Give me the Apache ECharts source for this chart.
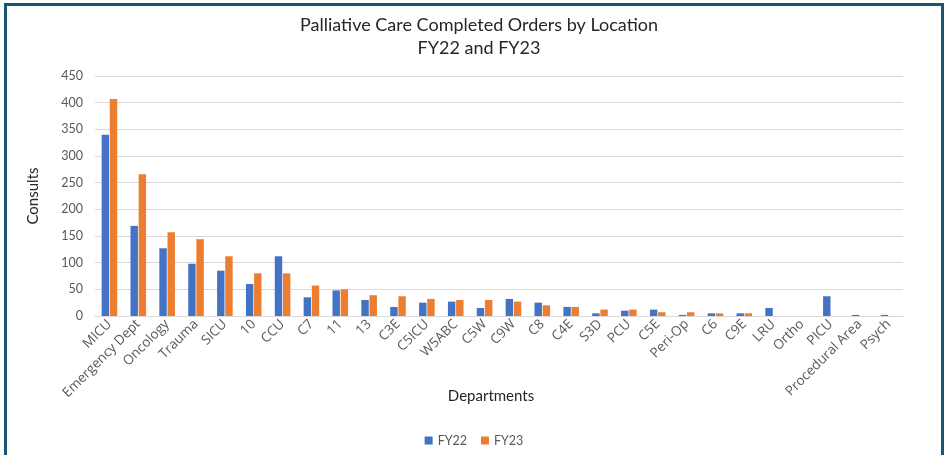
<!DOCTYPE html>
<html>
<head>
<meta charset="utf-8">
<script src="https://cdn.jsdelivr.net/npm/echarts@6/dist/echarts.min.js"></script>
<style>
html,body{margin:0;padding:0;background:#fff;}
#wrap{position:absolute;left:4px;top:3px;width:940px;height:452px;border-left:3px solid #1b5670;border-top:3px solid #1b5670;border-right:3px solid #1b5670;box-sizing:border-box;}
#chart{position:absolute;left:0;top:0;width:948px;height:455px;}
</style>
</head>
<body>
<div id="wrap"></div>
<div id="chart"></div>
<script>
const categories = ["MICU","Emergency Dept","Oncology","Trauma","SICU","10","CCU","C7","11","13","C3E","C5ICU","W5ABC","C5W","C9W","C8","C4E","S3D","PCU","C5E","Peri-Op","C6","C9E","LRU","Ortho","PICU","Procedural Area","Psych"];
const fy22 = [340,169,127,98,85,60,112,35,48,30,17,25,27,15,32,25,17,5,10,12,2,5,5,15,0,37,2,2];
const fy23 = [407,266,157,144,112,80,80,57,50,39,37,32,30,30,27,20,17,12,12,7,7,5,5,0,0,0,0,0];
const yTicks = [0,50,100,150,200,250,300,350,400,450];

const chart = echarts.init(document.getElementById('chart'), null, {renderer:'canvas'});
chart.setOption({
  backgroundColor: 'transparent',
  animation: false,
  title: [
    {text: 'Palliative Care Completed Orders by Location\nFY22 and FY23', left: 474, top: 9, textAlign: 'center',
     textStyle: {fontFamily: 'Lato', fontSize: 18, fontWeight: 'normal', color: '#262626', lineHeight: 23}},
    {text: 'Departments', left: 486, top: 384, textAlign: 'center',
     textStyle: {fontFamily: 'Lato', fontSize: 15, fontWeight: 'normal', color: '#262626'}}
  ],
  legend: {
    data: ['FY22','FY23'], left: 'center', top: 429, itemWidth: 8, itemHeight: 8, itemGap: 14,
    icon: 'rect', textStyle: {fontFamily: 'Lato', fontSize: 12.5, color: '#595959'}
  },
  grid: {left: 95, right: 45, top: 76, bottom: 139},
  xAxis: {
    type: 'category', data: categories,
    axisLine: {lineStyle: {color: '#d9d9d9'}},
    axisTick: {show: false},
    axisLabel: {rotate: 45, interval: 0, fontFamily: 'Open Sans', fontSize: 13.5, color: '#595959', margin: 6}
  },
  yAxis: {
    type: 'value', min: 0, max: 450, interval: 50,
    name: 'Consults', nameLocation: 'middle', nameGap: 54, nameRotate: 90,
    nameTextStyle: {fontFamily: 'Lato', fontSize: 15, color: '#262626'},
    axisLine: {show: false}, axisTick: {show: false},
    axisLabel: {fontFamily: 'Lato', fontSize: 12.5, color: '#595959', margin: 12,
      formatter: v => yTicks.includes(v) ? String(v) : ''},
    splitLine: {lineStyle: {color: '#d9d9d9'}}
  },
  series: [
    {name: 'FY22', type: 'bar', data: fy22, itemStyle: {color: '#4472c4'}, barGap: '10%', barCategoryGap: '46%'},
    {name: 'FY23', type: 'bar', data: fy23, itemStyle: {color: '#ed7d31'}, barGap: '10%', barCategoryGap: '46%'}
  ]
});
</script>
</body>
</html>
